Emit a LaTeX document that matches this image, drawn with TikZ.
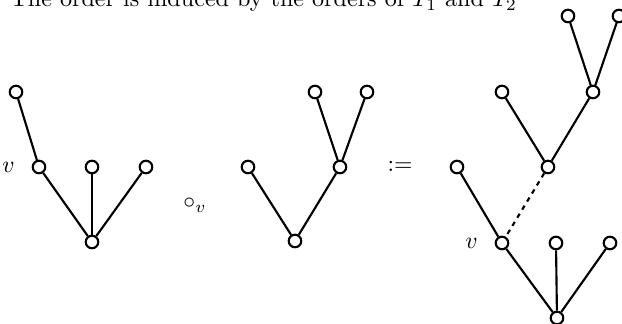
\documentclass[tikz,border=0pt]{standalone}
\usetikzlibrary{positioning}
\begin{document}
\begin{tikzpicture}[
        x=0.423pt, y=-0.423pt,
        nd/.style={draw, circle, line width=0.9pt, minimum size=5.3pt, inner sep=0pt},
        ed/.style={line width=0.9pt},
        gr/.style={ed, dash pattern=on 2pt off 2pt},
        lb/.style={inner sep=0pt}
    ]
        \useasboundingbox (0,0) rectangle (622,324);
        \node[lb, anchor=base west, scale=1.02] (txt) at (10,7) {The order is induced by the orders of $T_1$ and $T_2$};
        % first tree
        \node[nd] (a1) at (16,92) {};
        \node[nd] (a2) at (39,167) {};
        \node[nd] (a3) at (92,167) {};
        \node[nd] (a4) at (146,167) {};
        \node[nd] (a5) at (92,242) {};
        \node[lb, left=7pt of a2] (va) {$v$};
        \draw[ed] (a1)--(a2); \draw[ed] (a2)--(a5); \draw[ed] (a3)--(a5); \draw[ed] (a4)--(a5);
        \node[lb] (op) at (195,205) {$\circ_v$};
        % second tree
        \node[nd] (b1) at (248,167) {};
        \node[nd] (b2) at (295,241) {};
        \node[nd] (b3) at (340,167) {};
        \node[nd] (b4) at (315,92) {};
        \node[nd] (b5) at (367,92) {};
        \draw[ed] (b1)--(b2); \draw[ed] (b3)--(b2); \draw[ed] (b4)--(b3); \draw[ed] (b5)--(b3);
        \node[lb] (eq) at (400,166) {$:=$};
        % result
        \node[nd] (c1) at (568,16) {};
        \node[nd] (c2) at (619,16) {};
        \node[nd] (c3) at (593,92) {};
        \node[nd] (c4) at (502,92) {};
        \node[nd] (c5) at (548,167) {};
        \node[nd] (c6) at (457,167) {};
        \node[nd] (c7) at (502,243) {};
        \node[nd] (c8) at (556,243) {};
        \node[nd] (c9) at (610,243) {};
        \node[nd] (c10) at (557,318) {};
        \node[lb, left=7pt of c7] (vc) {$v$};
        \draw[ed] (c1)--(c3); \draw[ed] (c2)--(c3); \draw[ed] (c3)--(c5); \draw[ed] (c4)--(c5);
        \draw[gr] (c5)--(c7);
        \draw[ed] (c6)--(c7); \draw[ed] (c7)--(c10); \draw[ed] (c8)--(c10); \draw[ed] (c9)--(c10);
\end{tikzpicture}
\end{document}
